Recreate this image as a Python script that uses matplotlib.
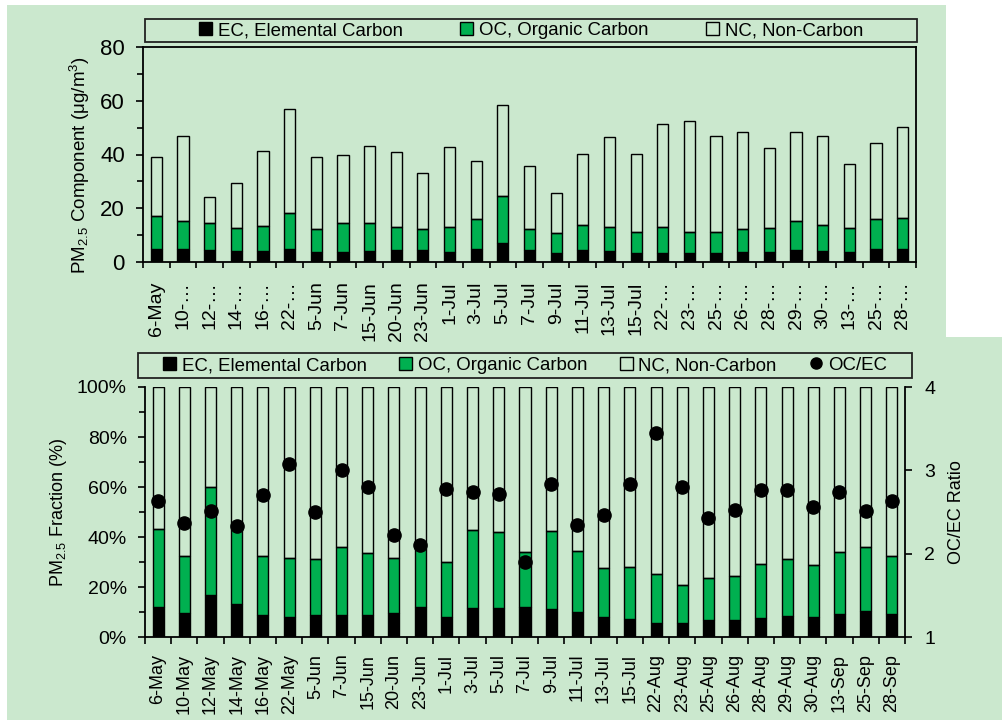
import matplotlib
matplotlib.use('Agg')
import matplotlib.pyplot as plt
import matplotlib.patches as mpatches
from matplotlib.lines import Line2D
from matplotlib.ticker import MultipleLocator, PercentFormatter, FixedLocator
import numpy as np

plt.rcParams['font.family'] = ['Liberation Sans', 'DejaVu Sans']
plt.rcParams['mathtext.fontset'] = 'custom'
plt.rcParams['mathtext.rm'] = 'Liberation Sans'
plt.rcParams['mathtext.it'] = 'Liberation Sans:italic'

W, H = 1002, 720
BG = '#CBE8CE'
GREEN = '#00B050'
FS = 13

# sampling days
dates = ['6-May', '10-May', '12-May', '14-May', '16-May', '22-May', '5-Jun',
         '7-Jun', '15-Jun', '20-Jun', '23-Jun', '1-Jul', '3-Jul', '5-Jul',
         '7-Jul', '9-Jul', '11-Jul', '13-Jul', '15-Jul', '22-Aug', '23-Aug',
         '25-Aug', '26-Aug', '28-Aug', '29-Aug', '30-Aug', '13-Sep', '25-Sep',
         '28-Sep']
# labels as they come out on the narrow upper axis
dates_short = ['6-May', '10-…', '12-…', '14-…', '16-…', '22-…', '5-Jun',
               '7-Jun', '15-Jun', '20-Jun', '23-Jun', '1-Jul', '3-Jul', '5-Jul',
               '7-Jul', '9-Jul', '11-Jul', '13-Jul', '15-Jul', '22-…', '23-…',
               '25-…', '26-…', '28-…', '29-…', '30-…', '13-…', '25-…', '28-…']

# concentrations, ug/m3
ec_conc = [5.0, 5.0, 4.5, 4.2, 4.1, 4.7, 3.8, 3.8, 4.2, 4.3, 4.3, 3.8, 4.7, 6.9,
           4.5, 3.2, 4.5, 4.0, 3.3, 3.3, 3.2, 3.5, 3.8, 3.6, 4.3, 4.2, 3.6, 5.0, 4.8]
oc_conc = [12.0, 10.3, 10.1, 8.6, 9.4, 13.5, 8.5, 10.6, 10.4, 8.6, 8.1, 9.1, 11.4,
           17.8, 7.8, 7.6, 9.4, 8.9, 8.0, 9.9, 8.0, 7.7, 8.4, 8.9, 11.1, 9.4, 8.9,
           11.1, 11.7]
nc_conc = [22.2, 31.5, 9.7, 16.7, 27.8, 38.9, 26.7, 25.4, 28.6, 27.9, 20.9, 29.8,
           21.4, 33.6, 23.4, 14.8, 26.3, 33.6, 28.9, 38.2, 41.4, 35.7, 36.2, 29.8,
           33.1, 33.3, 24.0, 28.2, 33.7]

# mass fractions, %
ec_frac = [12.1, 9.6, 16.9, 13.1, 8.9, 7.9, 8.9, 8.9, 8.9, 9.6, 12.0, 8.0, 11.6,
           11.5, 11.9, 11.1, 10.1, 8.1, 7.3, 5.6, 5.5, 6.8, 6.9, 7.7, 8.5, 8.1,
           9.2, 10.3, 9.1]
oc_frac = [31.2, 22.7, 43.0, 30.1, 23.4, 23.6, 22.3, 27.0, 24.7, 21.9, 24.5, 22.0,
           31.3, 30.6, 22.1, 31.3, 24.2, 19.6, 20.6, 19.7, 15.3, 16.7, 17.6, 21.5,
           22.8, 20.8, 24.7, 25.7, 23.4]
oc_ec_ratio = [2.63, 2.37, 2.51, 2.33, 2.70, 3.08, 2.50, 3.01, 2.80, 2.22, 2.10,
               2.78, 2.74, 2.72, 1.90, 2.84, 2.34, 2.46, 2.84, 3.45, 2.80, 2.43,
               2.53, 2.76, 2.76, 2.56, 2.74, 2.51, 2.63]

x = np.arange(len(dates))
ec_c, oc_c, nc_c = map(np.array, (ec_conc, oc_conc, nc_conc))
ec_f = np.array(ec_frac) / 100
oc_f = np.array(oc_frac) / 100
nc_f = 1 - ec_f - oc_f


def fig_rect(x0, y0, x1, y1):
    # pixel box (top-left origin) -> figure fraction [l, b, w, h]
    return [x0 / W, 1 - y1 / H, (x1 - x0) / W, (y1 - y0) / H]


def category_axis(ax, labels, tick_len, size, pad):
    ax.set_xlim(-0.5, len(labels) - 0.5)
    ax.xaxis.set_major_locator(FixedLocator(x))
    ax.set_xticklabels(labels, rotation=90, fontsize=size)
    ax.tick_params(axis='x', which='major', length=0, pad=pad)
    ax.xaxis.set_minor_locator(FixedLocator(np.arange(-0.5, len(labels), 1)))
    ax.tick_params(axis='x', which='minor', length=tick_len, width=1.2,
                   direction='out')


fig = plt.figure(figsize=(W / 100, H / 100), dpi=100)

# panel backgrounds
for box in [(7, 5, 946, 339), (7, 337, 1002, 720)]:
    l, b, w, h = fig_rect(*box)
    fig.add_artist(mpatches.Rectangle((l, b), w, h, transform=fig.transFigure,
                                      facecolor=BG, edgecolor='none', zorder=-10))

bar_kw = dict(width=0.42, edgecolor='black', linewidth=1.0)

# ---- upper panel: concentrations ----
ax1 = fig.add_axes(fig_rect(143, 47, 916, 262))
ax1.set_facecolor('none')
ax1.bar(x, ec_c, color='black', **bar_kw)
ax1.bar(x, oc_c, bottom=ec_c, color=GREEN, **bar_kw)
ax1.bar(x, nc_c, bottom=ec_c + oc_c, color='none', **bar_kw)
ax1.set_ylim(0, 80)
ax1.yaxis.set_major_locator(MultipleLocator(20))
ax1.yaxis.set_minor_locator(MultipleLocator(10))
ax1.tick_params(axis='y', which='major', labelsize=FS + 3, length=5, width=1.2,
                pad=8)
ax1.tick_params(axis='y', which='minor', length=4, width=1.2)
category_axis(ax1, dates_short, 4, FS + 1, 14)
ax1.set_ylabel('PM$_{2.5}$ Component (μg/m$^3$)', fontsize=FS + 0.5)
ax1.yaxis.set_label_coords(-0.066, 0.45)
for s in ax1.spines.values():
    s.set_linewidth(1.3)

# ---- lower panel: fractions and OC/EC ----
ax2 = fig.add_axes(fig_rect(145, 387, 905, 637))
ax2.set_facecolor('none')
ax2.bar(x, ec_f, color='black', **bar_kw)
ax2.bar(x, oc_f, bottom=ec_f, color=GREEN, **bar_kw)
ax2.bar(x, nc_f, bottom=ec_f + oc_f, color='none', **bar_kw)
ax2.set_ylim(0, 1)
ax2.yaxis.set_major_locator(MultipleLocator(0.2))
ax2.yaxis.set_minor_locator(MultipleLocator(0.1))
ax2.yaxis.set_major_formatter(PercentFormatter(1.0, decimals=0))
ax2.tick_params(axis='y', which='major', labelsize=FS + 1, length=5, width=1.2,
                pad=8)
ax2.tick_params(axis='y', which='minor', length=4, width=1.2)
category_axis(ax2, dates, 5, FS, 12)
ax2.set_ylabel('PM$_{2.5}$ Fraction (%)', fontsize=FS)
ax2.yaxis.set_label_coords(-0.100, 0.5)
ax2.spines['top'].set_visible(False)
ax2.spines['right'].set_visible(False)
for s in ('left', 'bottom'):
    ax2.spines[s].set_linewidth(1.3)

ax3 = ax2.twinx()
ax3.plot(x, oc_ec_ratio, 'o', color='black', markersize=9.5, zorder=5)
ax3.set_ylim(1, 4)
ax3.yaxis.set_major_locator(MultipleLocator(1))
ax3.tick_params(axis='y', labelsize=FS + 1, length=5, width=1.2, pad=9)
ax3.set_ylabel('OC/EC Ratio', fontsize=FS)
ax3.yaxis.set_label_coords(1.056, 0.5)
ax3.spines['top'].set_visible(False)
ax3.spines['left'].set_visible(False)
ax3.spines['bottom'].set_visible(False)
ax3.spines['right'].set_linewidth(1.3)

# ---- legends ----
sq = dict(edgecolor='black', linewidth=1.0)
h_ec = mpatches.Patch(facecolor='black', label='EC, Elemental Carbon', **sq)
h_oc = mpatches.Patch(facecolor=GREEN, label='OC, Organic Carbon', **sq)
h_nc = mpatches.Patch(facecolor='none', label='NC, Non-Carbon', **sq)
h_ratio = Line2D([], [], ls='none', marker='o', color='black', markersize=8,
                 label='OC/EC')

leg_kw = dict(loc='center', frameon=False, fontsize=FS + 0.4, handlelength=0.7,
              handleheight=0.7, handletextpad=0.3,
              bbox_transform=fig.transFigure)

for box, handles, spacing in [((145, 19, 917, 42), [h_ec, h_oc, h_nc], 3.1),
                              ((138, 353, 912, 378), [h_ec, h_oc, h_nc, h_ratio], 1.75)]:
    l, b, w, h = fig_rect(*box)
    fig.add_artist(mpatches.Rectangle((l, b), w, h, transform=fig.transFigure,
                                      facecolor='none', edgecolor='#222222',
                                      linewidth=1.3))
    fig.legend(handles=handles, ncol=len(handles), columnspacing=spacing,
               bbox_to_anchor=(l + w / 2, b + h / 2), **leg_kw)

fig.savefig('out.png', dpi=100)
